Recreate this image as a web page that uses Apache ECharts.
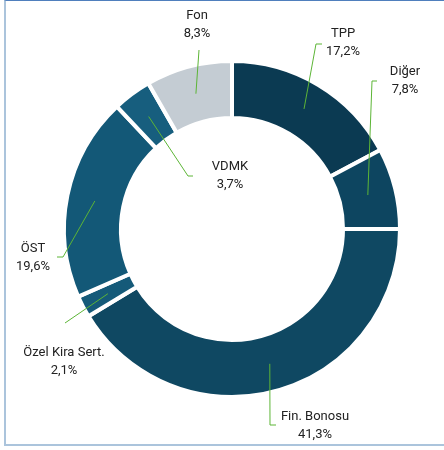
<!DOCTYPE html>
<html>
<head>
<meta charset="utf-8">
<script src="https://cdn.jsdelivr.net/npm/echarts@6/dist/echarts.min.js"></script>
<style>
  html, body { margin: 0; padding: 0; background: #fff; }
  #frame {
    position: absolute; left: 4px; top: 0; width: 460px; height: 443px;
    border-left: 2px solid #abc4dc; border-bottom: 2px solid #abc4dc; border-top: 1px solid #4f7fbd;
  }
  #main { position: absolute; left: 0; top: 0; width: 444px; height: 450px; }
</style>
</head>
<body>
<div id="frame"></div>
<div id="main"></div>
<script>
// veri
var categories = ['TPP', 'Diğer', 'Fin. Bonosu', 'Özel Kira Sert.', 'ÖST', 'VDMK', 'Fon'];
var shares = [17.2, 7.8, 41.3, 2.1, 19.6, 3.7, 8.3];
var colors = ['#0b3a52', '#0d4560', '#0f4862', '#155a79', '#135877', '#175e7e', '#c4ccd3'];

// etiket yerleşimi (metin merkezi) ve kılavuz çizgi kırılma noktaları
var labelPos = [[343, 43], [405, 81], [315, 426], [64, 362], [33, 258], [230, 176], [197, 25]];
var lineBend = [[316, 44, 322], [372, 81, 377], [270, 425, 276], [65, 323, 65], [63, 257, 57], [188, 176, 193], [199, 50, 199]];

var myChart = echarts.init(document.getElementById('main'));

var pieData = categories.map(function(name, i) {
	return { name: name, value: shares[i], itemStyle: { color: colors[i] } };
});

option = {
	animation: false,
	backgroundColor: 'transparent',
	series: [{
		// halka
		type: 'pie',
		z: 1,
		center: [232, 229],
		radius: [111, 168],
		startAngle: 90,
		clockwise: true,
		silent: true,
		itemStyle: { borderColor: '#fff', borderWidth: 4 },
		label: { show: false },
		labelLine: { show: false },
		data: pieData
	}, {
		// etiketler ve çizgiler için görünmez katman
		type: 'pie',
		z: 5,
		center: [232, 229],
		radius: [0, 140],
		startAngle: 90,
		clockwise: true,
		silent: true,
		itemStyle: { color: 'rgba(0,0,0,0)' },
		label: {
			show: true,
			position: 'outside',
			color: '#222',
			fontFamily: 'Roboto',
			fontSize: 13,
			lineHeight: 18,
			align: 'center',
			overflow: 'none',
			formatter: function(p) {
				return p.name + '\n' + p.value.toFixed(1).replace('.', ',') + '%';
			}
		},
		labelLine: {
			show: true,
			length: 10,
			length2: 10,
			lineStyle: { color: '#5cb536', width: 1 }
		},
		labelLayout: function(params) {
			var i = params.dataIndex;
			var p0 = params.labelLinePoints ? params.labelLinePoints[0] : [0, 0];
			var b = lineBend[i];
			return {
				x: labelPos[i][0],
				y: labelPos[i][1],
				align: 'center',
				verticalAlign: 'middle',
				labelLinePoints: [p0, [b[0], b[1]], [b[2], b[1]]]
			};
		},
		data: categories.map(function(name, i) {
			return { name: name, value: shares[i] };
		})
	}]
};

myChart.setOption(option);
</script>
</body>
</html>
